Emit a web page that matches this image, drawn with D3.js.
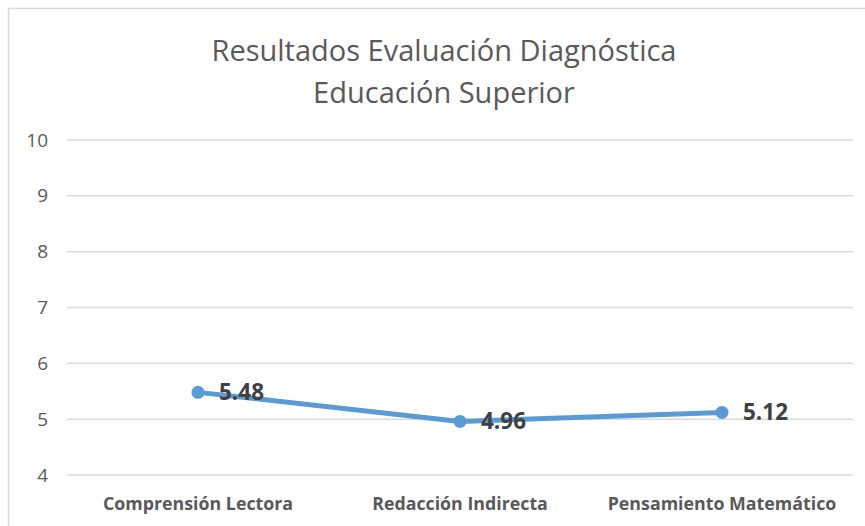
<!DOCTYPE html>
<html>
<head>
    <title>Resultados Evaluación Diagnóstica</title>
    <script src="https://d3js.org/d3.v7.min.js"></script>
    <style>
        body { margin: 0; background: #fff; }
        svg { display: block; font-family: "Open Sans", sans-serif; }
    </style>
</head>
<body>
    <div class="chart"></div>
    <script>
        // Chart data
        const titleLines = ["Resultados Evaluación Diagnóstica", "Educación Superior"];
        const categories = ["Comprensión Lectora", "Redacción Indirecta", "Pensamiento Matemático"];
        const values = [5.48, 4.96, 5.12];
        const yTicks = [4, 5, 6, 7, 8, 9, 10];

        const W = 865, H = 526;
        const margin = {top: 140, right: 12, bottom: 51, left: 67};
        const width = W - margin.left - margin.right;
        const height = H - margin.top - margin.bottom;

        const svg = d3.select(".chart")
            .append("svg")
            .attr("width", W)
            .attr("height", H);

        svg.append("rect")
            .attr("width", W).attr("height", H)
            .attr("fill", "#fff");

        // chart frame (continues past the right and bottom edges)
        svg.append("rect")
            .attr("x", 8.5).attr("y", 8.5)
            .attr("width", W + 20).attr("height", H + 20)
            .attr("fill", "none")
            .attr("stroke", "#d9d9d9")
            .attr("stroke-width", 1.5);

        // title
        svg.append("text")
            .attr("x", 444)
            .attr("y", 61)
            .attr("text-anchor", "middle")
            .attr("fill", "#595959")
            .style("font-size", "29px")
            .selectAll("tspan")
            .data(titleLines)
            .enter()
            .append("tspan")
            .attr("x", 444)
            .attr("dy", (d, i) => i === 0 ? 0 : 42)
            .text(d => d);

        const g = svg.append("g")
            .attr("transform", `translate(${margin.left}, ${margin.top})`);

        const x = d3.scaleBand()
            .domain(categories)
            .range([0, width]);

        const y = d3.scaleLinear()
            .domain([4, 10])
            .range([height, 0]);

        // gridlines
        g.append("g")
            .selectAll("line")
            .data(yTicks)
            .enter()
            .append("line")
            .attr("x1", 0)
            .attr("x2", width)
            .attr("y1", d => y(d))
            .attr("y2", d => y(d))
            .attr("stroke", "#d9d9d9")
            .attr("stroke-width", 1.5);

        // y axis labels
        const yAxis = g.append("g")
            .attr("transform", "translate(-19, 0)")
            .call(d3.axisLeft(y).tickValues(yTicks).tickFormat(d3.format("d")).tickSize(0).tickPadding(0));
        yAxis.select(".domain").remove();
        yAxis.selectAll("text")
            .attr("fill", "#595959")
            .style("font-family", "Open Sans, sans-serif")
            .style("font-size", "19px");

        // x axis labels
        const xAxis = g.append("g")
            .attr("transform", `translate(0, ${height})`)
            .call(d3.axisBottom(x).tickSize(0).tickPadding(0));
        xAxis.select(".domain").remove();
        xAxis.selectAll("text")
            .attr("dy", null)
            .attr("y", 35)
            .attr("fill", "#595959")
            .style("font-family", "Open Sans, sans-serif")
            .style("font-weight", "bold")
            .style("font-size", "17.8px");

        const cx = d => x(d) + x.bandwidth() / 2;

        // line
        const line = d3.line()
            .x((d, i) => cx(categories[i]))
            .y(d => y(d));

        g.append("path")
            .datum(values)
            .attr("fill", "none")
            .attr("stroke", "#5b9bd5")
            .attr("stroke-width", 5)
            .attr("stroke-linejoin", "round")
            .attr("stroke-linecap", "round")
            .attr("d", line);

        g.selectAll(".dot")
            .data(values)
            .enter()
            .append("circle")
            .attr("class", "dot")
            .attr("cx", (d, i) => cx(categories[i]))
            .attr("cy", d => y(d))
            .attr("r", 6.5)
            .attr("fill", "#5b9bd5");

        // data labels
        g.selectAll(".lbl")
            .data(values)
            .enter()
            .append("text")
            .attr("class", "lbl")
            .attr("x", (d, i) => cx(categories[i]) + 21)
            .attr("y", d => y(d))
            .attr("dy", "0.35em")
            .attr("fill", "#404040")
            .style("font-weight", "bold")
            .style("font-size", "22.5px")
            .text(d => d.toFixed(2));
    </script>
</body>
</html>
